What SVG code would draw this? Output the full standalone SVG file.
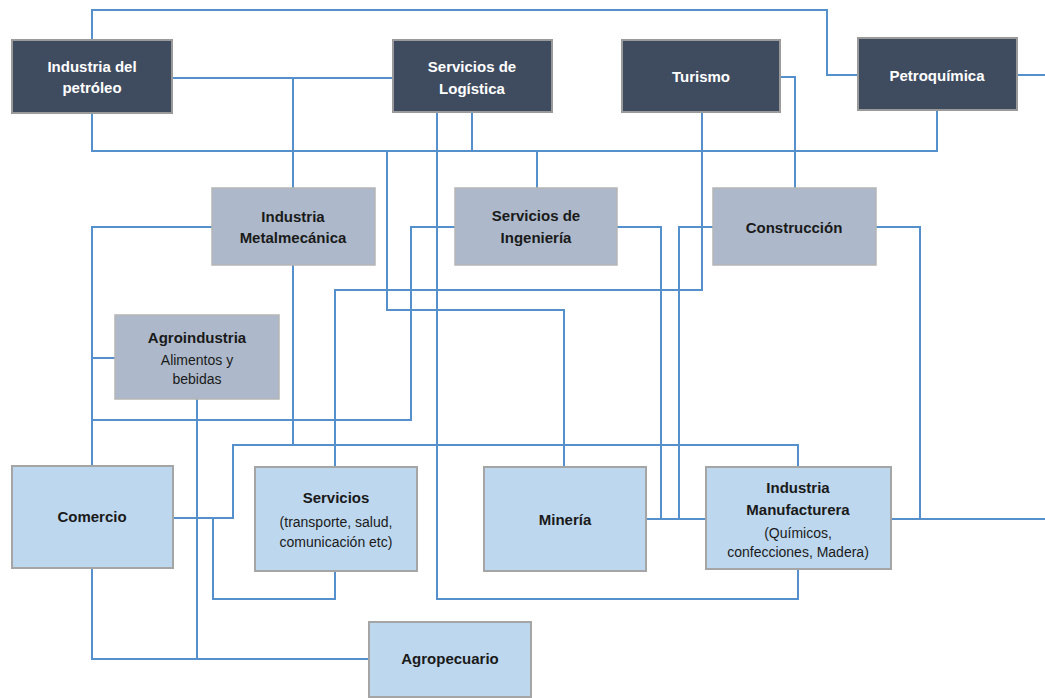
<svg xmlns="http://www.w3.org/2000/svg" width="1045" height="698" viewBox="0 0 1045 698">
<style>
.bg{fill:#ffffff}
.c path{fill:none;stroke:#5590cc;stroke-width:2}
.dark rect{fill:#3f4c60;stroke:#9a9a9a;stroke-width:2}
.mid rect{fill:#adb9ca;stroke:#b5b5b5;stroke-width:1.5}
.light rect{fill:#bdd7ee;stroke:#a5a5a5;stroke-width:2}
text{font-family:"Liberation Sans",Arial,sans-serif;font-size:15px;text-anchor:middle}
.dark text{fill:#ffffff;font-weight:bold}
.mid text,.light text{fill:#1a1a1a}
.b{font-weight:bold}
.s{font-size:14px}
</style>
<rect class="bg" x="0" y="0" width="1045" height="698"/>
<g class="c" id="connectors">
<path d="M92,40 V10 H827 V75 H858"/>
<path d="M1017,75 H1045"/>
<path d="M172,78 H393"/>
<path d="M293,78 V188"/>
<path d="M92,113 V151 H937 V110"/>
<path d="M472,112 V151"/>
<path d="M537,151 V188"/>
<path d="M387,151 V310 H564 V467"/>
<path d="M437,112 V599 H798 V569"/>
<path d="M702,112 V290 H335 V467"/>
<path d="M780,77 H795 V188"/>
<path d="M212,227 H92 V466"/>
<path d="M115,358 H92"/>
<path d="M455,227 H411 V420 H92"/>
<path d="M293,265 V445"/>
<path d="M173,518 H233 V445 H798 V467"/>
<path d="M213,518 V599 H335 V571"/>
<path d="M197,399 V659"/>
<path d="M92,568 V659 H369"/>
<path d="M617,227 H661 V519"/>
<path d="M713,227 H679 V519"/>
<path d="M646,519 H706"/>
<path d="M876,227 H920 V519"/>
<path d="M891,519 H1045"/>
</g>
<g id="petroleo" class="dark"><rect x="12" y="40" width="160" height="73"/><text x="92" y="72">Industria del</text><text x="92" y="93">petróleo</text></g>
<g id="logistica" class="dark"><rect x="393" y="40" width="159" height="72"/><text x="472" y="72">Servicios de</text><text x="472" y="94">Logística</text></g>
<g id="turismo" class="dark"><rect x="622" y="40" width="158" height="72"/><text x="701" y="82">Turismo</text></g>
<g id="petroquimica" class="dark"><rect x="858" y="38" width="159" height="72"/><text x="937" y="81">Petroquímica</text></g>
<g id="metalmecanica" class="mid"><rect x="212" y="188" width="163" height="77"/><text class="b" x="293" y="222">Industria</text><text class="b" x="293" y="243">Metalmecánica</text></g>
<g id="ingenieria" class="mid"><rect x="455" y="188" width="162" height="77"/><text class="b" x="536" y="221">Servicios de</text><text class="b" x="536" y="243">Ingeniería</text></g>
<g id="construccion" class="mid"><rect x="713" y="188" width="163" height="77"/><text class="b" x="794" y="233">Construcción</text></g>
<g id="agroindustria" class="mid"><rect x="115" y="315" width="164" height="84"/><text class="b" x="197" y="343">Agroindustria</text><text class="s" x="197" y="365">Alimentos y</text><text class="s" x="197" y="384">bebidas</text></g>
<g id="comercio" class="light"><rect x="12" y="466" width="161" height="102"/><text class="b" x="92" y="522">Comercio</text></g>
<g id="servicios" class="light"><rect x="255" y="467" width="162" height="104"/><text class="b" x="336" y="503">Servicios</text><text class="s" x="336" y="527">(transporte, salud,</text><text class="s" x="336" y="547">comunicación etc)</text></g>
<g id="mineria" class="light"><rect x="484" y="467" width="162" height="104"/><text class="b" x="565" y="525">Minería</text></g>
<g id="manufacturera" class="light"><rect x="706" y="467" width="185" height="102"/><text class="b" x="798" y="493">Industria</text><text class="b" x="798" y="515">Manufacturera</text><text class="s" x="798" y="538">(Químicos,</text><text class="s" x="798" y="557">confecciones, Madera)</text></g>
<g id="agropecuario" class="light"><rect x="369" y="622" width="162" height="75"/><text class="b" x="450" y="664">Agropecuario</text></g>
</svg>
